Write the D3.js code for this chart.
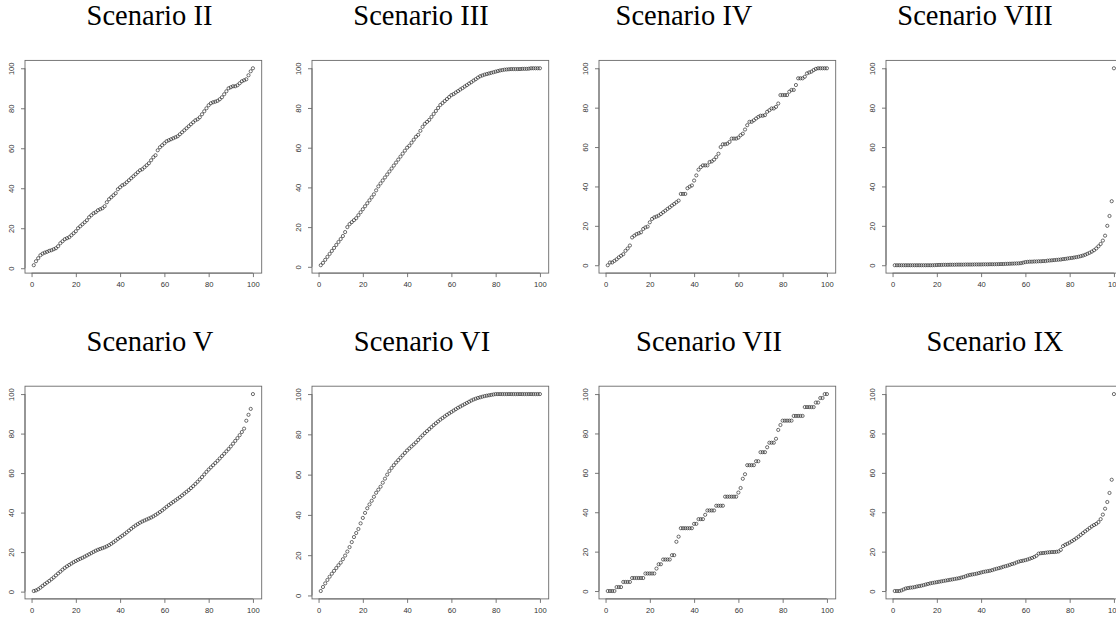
<!DOCTYPE html>
<html><head><meta charset="utf-8">
<script src="https://cdn.jsdelivr.net/npm/d3@7"></script>
<style>html,body{margin:0;padding:0;background:#fff;}svg{display:block;}</style>
</head><body>
<svg id="chart" width="1116" height="618"></svg>
<script>
const titles = ["Scenario II","Scenario III","Scenario IV","Scenario VIII","Scenario V","Scenario VI","Scenario VII","Scenario IX"];
const tickValues = [0,20,40,60,80,100];
const index = d3.range(1,101);

const scenarioII = [1.5,3.5,5,6.5,7.3,7.8,8.2,8.7,9,9.5,10,11,12.5,13.5,14.5,15,15.5,16.5,17.5,18.5,20,21,22,23,24,25.5,26.5,27.5,28,29,29.5,30,31,33,34.5,35.5,36.5,37.5,39.5,40.5,41.5,42,43,44,45,46,47,48,49,49.5,50.5,51.5,52.5,54,55.5,56.5,59,60.5,61.5,62.5,63.5,64,64.5,65,65.5,66,67,68,69,70,71,72,73,74,74.5,75.5,77,78.5,80,81.5,82.5,83,83.3,83.7,84.5,85.5,87,88.5,90,90.5,91,91,91.5,92.5,93.5,94,94.5,96.5,98.5,100];
const scenarioIII = [0.8,2,3.5,5,6.5,8,9.5,11,12.5,14,15.5,17.5,20,21.5,22.5,23.5,24.5,26,27.5,29,30.5,32,33.5,35,36.5,38.5,40.5,42,43.5,45,46.5,48,49.5,51,52.5,54,55.5,57,58.5,60,61,62.5,64,65.5,66.5,68.5,70.5,72,73,74,75.5,77,78.5,80,81.5,82.5,83.5,84.5,85.5,86.5,87,87.8,88.5,89.3,90,90.8,91.5,92.3,93,93.8,94.5,95.3,96,96.4,96.8,97.1,97.4,97.7,98,98.3,98.6,98.9,99.1,99.3,99.4,99.5,99.6,99.6,99.6,99.6,99.6,99.7,99.7,99.7,99.8,100,100,100,100,100];
const scenarioIV = [0,1.4,1.4,2.2,3,4,4.8,5.6,7.3,8.5,10,14.1,15,15.8,16.2,16.7,18.4,19.2,19.6,21.8,23.5,24.3,24.7,25.2,26,26.9,27.7,28.6,29.4,30.3,31.1,32,32.8,36.2,36.2,36.2,39.1,39.9,40.5,43,45.6,48.5,49.8,50.7,50.7,50.7,52.4,52.7,53.6,54.9,56.6,60,61.4,61.4,61.7,62.6,64.3,64.3,64.3,64.8,66,66.8,68.9,71.1,72.8,72.8,73.6,74.5,75.3,75.9,75.9,76.2,77.9,78.7,79.6,79.6,80.4,82.1,86.4,86.4,86.4,86.4,88.1,89,89,91.5,94.9,94.9,94.9,95.7,97.4,97.9,98.3,99.1,99.7,100,100,100,100,100];
const scenarioVIII = [0,0,0,0,0,0,0,0,0,0,0,0,0,0,0,0,0,0,0.05,0.1,0.15,0.15,0.2,0.2,0.2,0.25,0.25,0.25,0.3,0.3,0.3,0.3,0.35,0.35,0.35,0.35,0.4,0.4,0.4,0.4,0.45,0.45,0.45,0.5,0.5,0.5,0.55,0.55,0.6,0.6,0.65,0.7,0.75,0.8,0.85,0.9,0.95,1.05,1.3,1.6,1.7,1.8,1.8,1.9,1.9,2,2,2.1,2.1,2.3,2.4,2.5,2.6,2.7,2.8,2.9,3.1,3.2,3.4,3.6,3.7,3.9,4.1,4.3,4.6,4.9,5.3,5.8,6.3,6.9,7.6,8.5,9.6,10.8,12.5,15,20,25,32.5,100];
const scenarioV = [0.3,0.6,1.2,2,2.9,3.8,4.6,5.4,6.3,7.2,8.2,9.2,10.1,11.1,12,12.8,13.5,14.2,14.9,15.5,16.1,16.6,17.1,17.7,18.3,18.9,19.5,20.1,20.7,21.2,21.6,22,22.4,22.9,23.5,24.2,25,25.8,26.7,27.5,28.3,29.1,30,30.9,31.8,32.7,33.5,34.2,34.9,35.5,36,36.5,37,37.5,38.1,38.8,39.5,40.3,41.1,42,42.9,43.8,44.6,45.4,46.2,47,47.8,48.7,49.6,50.5,51.4,52.4,53.4,54.5,55.6,56.8,58,59.3,60.6,61.8,62.9,64,65.1,66.2,67.4,68.6,69.8,71,72.2,73.5,74.9,76.3,77.7,79.2,80.8,82.5,86.5,89.5,92.5,100];
const scenarioVI = [2.2,4.2,6,7.7,9.3,10.8,12.2,13.6,15,16.3,18,19.8,21.8,24,26.5,29,31,33,35.8,38.5,41,43.3,45.2,47,49,51,52.5,54,56,58,60,61.8,63.3,64.7,66,67.2,68.4,69.6,70.8,72,73,74,75,76,77.2,78.4,79.5,80.6,81.6,82.6,83.6,84.6,85.5,86.4,87.3,88.1,88.9,89.7,90.4,91.1,91.8,92.5,93.2,93.8,94.4,95,95.6,96.2,96.8,97.3,97.7,98.1,98.4,98.7,99,99.2,99.4,99.6,99.8,100,100,100,100,100,100,100,100,100,100,100,100,100,100,100,100,100,100,100,100,100];
const scenarioVII = [0,0,0,0,2,2,2,4.6,4.6,4.6,4.6,6.6,6.6,6.6,6.6,6.6,6.6,8.9,8.9,8.9,8.9,8.9,11.4,13.6,13.6,16,16,16,16,18.2,18.2,25,27.6,31.9,31.9,31.9,31.9,31.9,31.9,34.1,34.1,36.5,36.5,36.5,38.7,40.9,40.9,40.9,40.9,43.3,43.3,43.3,43.3,47.9,47.9,47.9,47.9,47.9,47.9,50,52.3,57,59.3,63.9,63.9,63.9,63.9,65.9,65.9,70.5,70.5,70.5,73,75.3,75.3,75.3,77.3,81.8,84.3,86.5,86.5,86.5,86.5,86.5,88.9,88.9,88.9,88.9,88.9,93.4,93.4,93.4,93.4,93.4,95.7,95.7,98,98,100,100];
const scenarioIX = [0,0,0,0.3,0.8,1.3,1.5,1.7,1.8,2,2.3,2.5,2.7,3,3.3,3.6,3.9,4.1,4.3,4.5,4.7,4.9,5.1,5.3,5.5,5.7,5.9,6.1,6.3,6.5,6.8,7.1,7.5,7.9,8.2,8.4,8.6,8.8,9.1,9.4,9.7,9.9,10.1,10.3,10.6,11,11.3,11.6,11.9,12.3,12.6,12.9,13.3,13.7,14,14.5,14.9,15.2,15.4,15.7,16,16.4,16.8,17.3,17.9,19,19.2,19.3,19.4,19.6,19.7,19.8,19.8,19.9,20.1,20.9,22.8,23.5,24,24.6,25.3,26,26.8,27.6,28.5,29.4,30.3,31.1,32,32.8,33.5,34.1,35,36.5,38.8,41.8,45.2,49.8,56.5,100];

const series = [scenarioII, scenarioIII, scenarioIV, scenarioVIII, scenarioV, scenarioVI, scenarioVII, scenarioIX];

const svg = d3.select("#chart");
const colLeft = [25, 312, 599, 886];
const plotW = 236.7, plotH = 212.7;
const rowTop = [60.4, 386.2];
const titleBase = [25, 350.7];
const titleX = [[149.5, 421, 684, 975], [150, 422, 709, 995]];

function ext(lo, hi){ const r = hi - lo; return [lo - 0.04*r, hi + 0.04*r]; }

series.forEach((vals, k) => {
  const row = Math.floor(k/4), col = k % 4;
  const L = colLeft[col], T = rowTop[row];
  const x = d3.scaleLinear().domain(ext(1,100)).range([L, L+plotW]);
  const y = d3.scaleLinear().domain(ext(d3.min(vals), d3.max(vals))).range([T+plotH, T]);
  const g = svg.append("g");

  g.append("text").attr("x", titleX[row][col]).attr("y", titleBase[row])
    .attr("text-anchor","middle").attr("font-family","'Liberation Serif','Times New Roman',serif")
    .attr("font-size", 28.5).attr("fill","#000").text(titles[k]);

  g.append("rect").attr("x", L).attr("y", T).attr("width", plotW).attr("height", plotH)
    .attr("fill","none").attr("stroke","#6a6a6a").attr("stroke-width",0.9);

  const xa = g.append("g").attr("transform", `translate(0,${T+plotH})`)
    .call(d3.axisBottom(x).tickValues(tickValues).tickSize(4).tickSizeOuter(0).tickFormat(d3.format("d")));
  xa.select(".domain").attr("stroke","#6a6a6a").attr("stroke-width",0.9)
    .attr("d", `M${x(0)},0H${x(100)}`);
  xa.selectAll(".tick line").attr("stroke","#6a6a6a").attr("stroke-width",0.9);
  xa.selectAll(".tick text").attr("y", 9).attr("font-family","'Liberation Sans',Arial,sans-serif")
    .attr("font-size", 7.6).attr("fill","#333");

  const ya = g.append("g").attr("transform", `translate(${L},0)`)
    .call(d3.axisLeft(y).tickValues(tickValues).tickSize(4).tickSizeOuter(0).tickFormat(d3.format("d")));
  ya.select(".domain").attr("stroke","#6a6a6a").attr("stroke-width",0.9)
    .attr("d", `M0,${y(0)}V${y(100)}`);
  ya.selectAll(".tick line").attr("stroke","#6a6a6a").attr("stroke-width",0.9);
  ya.selectAll(".tick text").attr("x", null).attr("dy", null)
    .attr("transform", "translate(-13.3,0) rotate(-90)")
    .attr("text-anchor","middle").attr("dominant-baseline","central")
    .attr("font-family","'Liberation Sans',Arial,sans-serif")
    .attr("font-size", 7.6).attr("fill","#333");

  g.selectAll("circle").data(vals).enter().append("circle")
    .attr("cx", (d,i) => x(index[i])).attr("cy", d => y(d))
    .attr("r", 1.6).attr("fill","none").attr("stroke","#222").attr("stroke-width",0.65);
});
</script>
</body></html>
